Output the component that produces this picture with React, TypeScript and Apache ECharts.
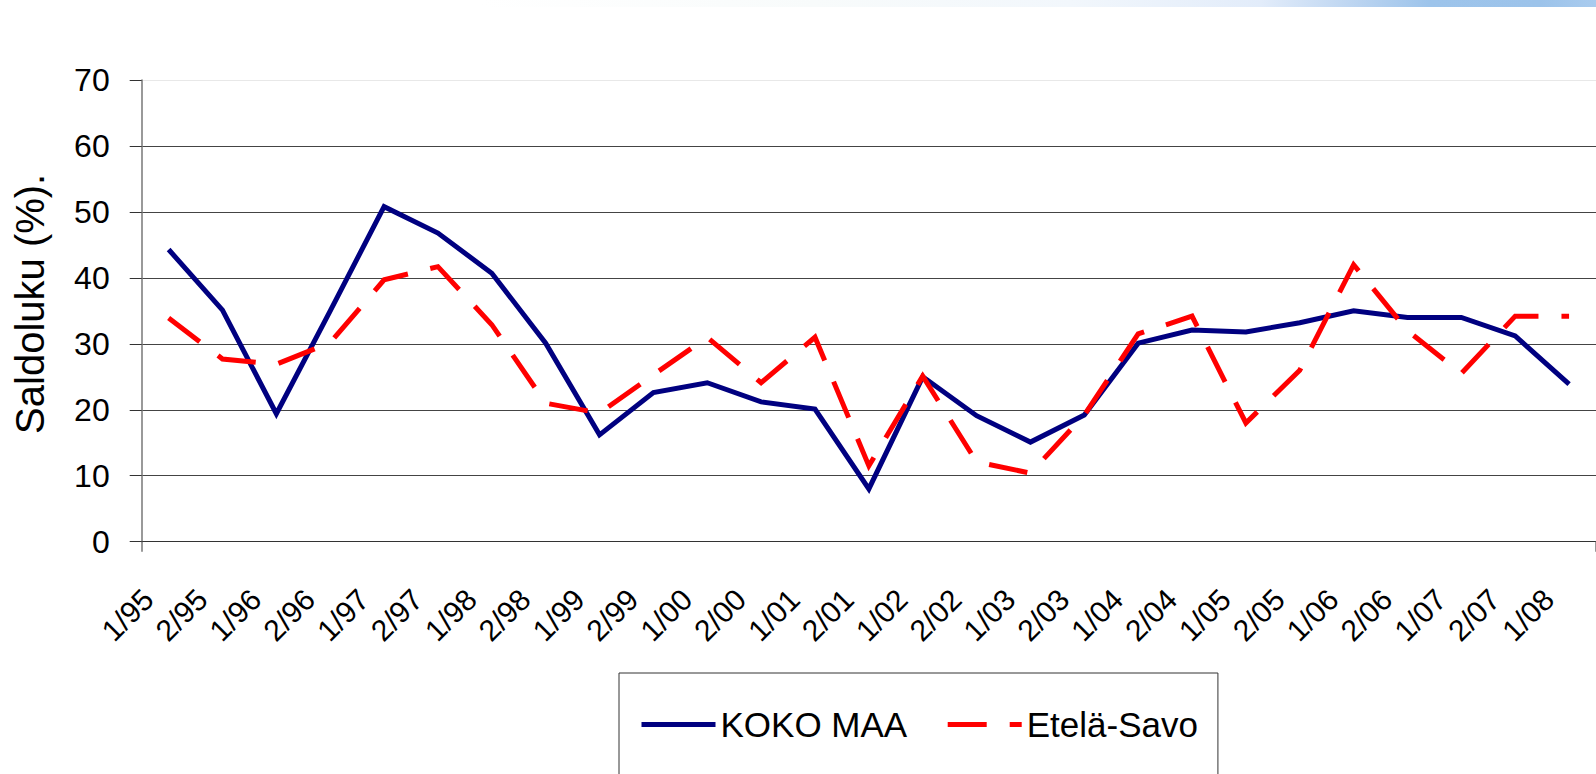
import React, { useEffect, useRef } from "react";
import * as echarts from "echarts";

const categories = [
  "1/95", "2/95", "1/96", "2/96", "1/97", "2/97", "1/98", "2/98", "1/99", "2/99",
  "1/00", "2/00", "1/01", "2/01", "1/02", "2/02", "1/03", "2/03", "1/04", "2/04",
  "1/05", "2/05", "1/06", "2/06", "1/07", "2/07", "1/08",
];

const kokoMaa = [
  44.3, 35.1, 19.4, 35.0, 50.8, 46.8, 40.7, 30.1, 16.2, 22.6,
  24.1, 21.2, 20.1, 8.0, 25.0, 19.1, 15.1, 19.2, 30.1, 32.1,
  31.8, 33.2, 35.0, 34.0, 34.0, 31.2, 23.9,
];

const etelaSavo = [
  33.9, 27.7, 26.9, 30.2, 39.7, 41.7, 32.9, 21.0, 19.5, 25.3,
  31.0, 24.1, 31.0, 11.5, 25.1, 12.1, 10.4, 19.2, 31.5, 34.2,
  18.0, 26.0, 42.0, 32.0, 25.5, 34.2, 34.2,
];

const yTicks = { min: 0, max: 70, interval: 10 };

const FONT = "'Liberation Sans', Arial, Helvetica, sans-serif";

export default function App() {
  const ref = useRef<HTMLDivElement>(null);

  useEffect(() => {
    if (!ref.current) return;
    const chart = echarts.init(ref.current, undefined, { renderer: "svg" });
    const gridColors = ["#333", "#444", "#444", "#444", "#444", "#444", "#444", "#e8e8e8"];
    chart.setOption({
      animation: false,
      backgroundColor: "#ffffff",
      graphic: [
        {
          type: "rect",
          x: 480,
          y: 0,
          shape: { width: 1116, height: 7 },
          style: {
            fill: new echarts.graphic.LinearGradient(0, 0, 1, 0, [
              { offset: 0, color: "#ffffff" },
              { offset: 0.3, color: "#f8fbfb" },
              { offset: 0.53, color: "#f2f7fc" },
              { offset: 0.7, color: "#e2ecfa" },
              { offset: 0.79, color: "#b9d3f0" },
              { offset: 0.85, color: "#9dc4eb" },
              { offset: 0.95, color: "#9cc3ea" },
              { offset: 1, color: "#a9cbee" },
            ]),
          },
          silent: true,
        },
      ],
      grid: { left: 141.7, right: -12.7, top: 80, bottom: 232.3, containLabel: false },
      legend: {
        left: 619,
        top: 673,
        orient: "horizontal",
        itemWidth: 74,
        itemHeight: 20,
        itemGap: 38,
        padding: [34, 20, 100, 20],
        borderColor: "#333",
        borderWidth: 1,
        backgroundColor: "#ffffff",
        itemStyle: { opacity: 0 },
        lineStyle: { width: 5 },
        textStyle: { fontSize: 35, color: "#000", fontFamily: FONT },
        data: ["KOKO MAA", "Etelä-Savo"],
      },
      xAxis: {
        type: "category",
        data: categories,
        boundaryGap: true,
        axisLine: { show: true, lineStyle: { color: "#333", width: 1.2 } },
        axisTick: {
          show: true,
          interval: (i: number) => i === 0,
          length: 10,
          lineStyle: { color: "#777", width: 1.5 },
        },
        axisLabel: {
          interval: 0,
          rotate: 45,
          fontSize: 30,
          color: "#000",
          fontFamily: FONT,
          margin: 32,
          padding: [0, 29, 0, 0],
        },
        splitLine: { show: false },
      },
      yAxis: {
        type: "value",
        min: yTicks.min,
        max: yTicks.max,
        interval: yTicks.interval,
        name: "Saldoluku (%).",
        nameLocation: "middle",
        nameRotate: 90,
        nameGap: 92,
        nameTextStyle: { fontSize: 40, color: "#000", fontFamily: FONT, padding: [0, 0, 0, 14] },
        axisLine: { show: true, lineStyle: { color: "#777", width: 1.5 } },
        axisTick: { show: true, length: 12, lineStyle: { color: "#333", width: 1 } },
        axisLabel: { fontSize: 32, color: "#000", fontFamily: FONT, margin: 32 },
        splitLine: { show: true, lineStyle: { color: gridColors, width: 1 } },
      },
      series: [
        {
          name: "KOKO MAA",
          type: "line",
          data: kokoMaa,
          symbol: "none",
          lineStyle: { color: "#000080", width: 5, join: "miter" },
          itemStyle: { color: "#000080" },
        },
        {
          name: "Etelä-Savo",
          type: "line",
          data: etelaSavo,
          symbol: "none",
          lineStyle: { color: "#ff0000", width: 5, type: [39, 23], cap: "butt", join: "miter" },
          itemStyle: { color: "#ff0000" },
        },
      ],
    });
    return () => chart.dispose();
  }, []);

  return (
    <div
      ref={ref}
      style={{ position: "fixed", left: 0, top: 0, width: 1596, height: 774, overflow: "hidden" }}
    />
  );
}
